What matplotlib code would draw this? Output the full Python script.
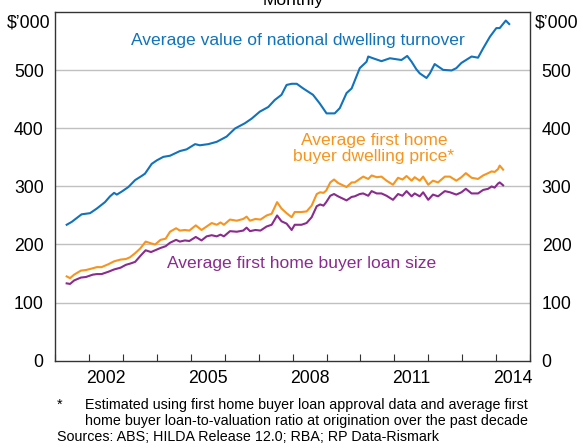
import numpy as np
import matplotlib.pyplot as plt

# Average dwelling values, $'000, monthly

turnover_dates = [2001.33, 2001.48, 2001.77, 2002.02, 2002.22, 2002.46, 2002.61, 2002.73, 2002.81, 2002.95,
                  2003.15, 2003.35, 2003.54, 2003.64, 2003.84, 2003.99, 2004.18, 2004.38, 2004.67, 2004.87,
                  2005.12, 2005.26, 2005.51, 2005.76, 2006.05, 2006.30, 2006.59, 2006.79, 2007.03, 2007.28,
                  2007.47, 2007.67, 2007.82, 2007.97, 2008.12, 2008.31, 2008.60, 2008.80, 2009.00, 2009.24,
                  2009.39, 2009.59, 2009.74, 2009.98, 2010.18, 2010.23, 2010.37, 2010.62, 2010.87, 2011.21,
                  2011.38, 2011.51, 2011.65, 2011.75, 2011.95, 2012.05, 2012.19, 2012.44, 2012.69, 2012.83,
                  2012.98, 2013.28, 2013.47, 2013.62, 2013.82, 2014.01, 2014.11, 2014.29, 2014.39]
turnover = [234, 239, 252, 254, 262, 273, 283, 289, 286, 291,
            299, 311, 318, 322, 339, 345, 351, 353, 361, 364,
            373, 371, 373, 377, 386, 400, 409, 417, 429, 437,
            449, 458, 475, 477, 477, 469, 458, 443, 426, 426,
            435, 461, 469, 504, 515, 524, 521, 516, 521, 518,
            525, 515, 502, 495, 487, 495, 511, 501, 500, 504,
            513, 524, 522, 538, 558, 573, 573, 586, 580]

fhb_dates = [2001.33, 2001.43, 2001.55, 2001.75, 2001.90, 2002.10, 2002.22, 2002.36, 2002.56, 2002.73,
             2002.92, 2003.08, 2003.20, 2003.35, 2003.50, 2003.66, 2003.82, 2003.94, 2004.10, 2004.25,
             2004.38, 2004.56, 2004.67, 2004.82, 2004.95, 2005.14, 2005.31, 2005.46, 2005.61, 2005.76,
             2005.87, 2005.97, 2006.15, 2006.35, 2006.54, 2006.64, 2006.74, 2006.90, 2007.05, 2007.23,
             2007.38, 2007.54, 2007.67, 2007.82, 2007.97, 2008.06, 2008.26, 2008.41, 2008.56, 2008.71,
             2008.81, 2008.91, 2008.99, 2009.11, 2009.22, 2009.34, 2009.59, 2009.74, 2009.83, 2009.98,
             2010.08, 2010.23, 2010.33, 2010.48, 2010.62, 2010.77, 2010.96, 2011.11, 2011.24, 2011.36,
             2011.51, 2011.60, 2011.75, 2011.85, 2012.00, 2012.14, 2012.29, 2012.49, 2012.64, 2012.83,
             2012.98, 2013.11, 2013.28, 2013.47, 2013.62, 2013.77, 2013.87, 2013.96, 2014.06, 2014.11,
             2014.21]
fhb_price = [145, 142, 148, 155, 156, 159, 161, 161, 166, 171,
             174, 175, 178, 185, 193, 205, 202, 200, 208, 210,
             222, 228, 224, 225, 224, 233, 225, 231, 237, 234,
             238, 234, 243, 241, 244, 248, 241, 244, 243, 250,
             253, 273, 262, 254, 247, 256, 256, 257, 267, 287,
             290, 289, 293, 307, 312, 306, 299, 307, 307, 313,
             317, 313, 319, 316, 317, 310, 303, 315, 312, 318,
             310, 316, 310, 317, 303, 310, 307, 317, 317, 310,
             316, 323, 315, 313, 319, 323, 326, 325, 330, 336,
             329]
fhb_loan = [133, 132, 138, 143, 144, 148, 149, 149, 153, 157,
            160, 165, 167, 170, 180, 190, 187, 190, 194, 197,
            203, 208, 205, 207, 206, 213, 207, 214, 216, 214,
            217, 214, 223, 222, 224, 229, 223, 225, 224, 231,
            234, 250, 240, 236, 225, 234, 234, 237, 247, 266,
            269, 267, 273, 284, 287, 283, 276, 282, 283, 287,
            288, 284, 292, 288, 288, 284, 277, 287, 284, 292,
            283, 288, 283, 290, 277, 286, 283, 292, 290, 286,
            290, 296, 288, 288, 294, 296, 300, 298, 305, 307,
            302]

year_labels = ['2002', '2005', '2008', '2011', '2014']
y_ticks = [0, 100, 200, 300, 400, 500]

blue = '#1173bb'
orange = '#f7941d'
purple = '#8a2b8e'

plt.rcParams['font.family'] = ['Liberation Sans', 'DejaVu Sans']

fig = plt.figure(figsize=(5.81, 4.44), dpi=100)
ax = fig.add_axes([0.0955, 0.188, 0.8165, 0.784])

for y in y_ticks[1:]:
    ax.axhline(y, color='#c0c0c0', lw=1.0, zorder=1)

ax.plot(turnover_dates, turnover, color=blue, lw=1.5, zorder=3)
ax.plot(fhb_dates, fhb_price, color=orange, lw=1.5, zorder=3)
ax.plot(fhb_dates, fhb_loan, color=purple, lw=1.5, zorder=3)

ax.set_xlim(2001, 2015)
ax.set_ylim(0, 600)

# year boundaries as tick marks, labels centred mid-year
ax.set_xticks(np.arange(2001, 2016))
ax.set_xticklabels([])
ax.set_xticks([int(s) + 0.5 for s in year_labels], minor=True)
ax.set_xticklabels(year_labels, minor=True)
ax.tick_params(axis='x', which='major', direction='in', length=5, width=0.8, color='#333333')
ax.tick_params(axis='x', which='minor', length=0, pad=7, labelsize=12.7)

ax.set_yticks(y_ticks)
ax.set_yticklabels([str(v) for v in y_ticks])
ax.tick_params(axis='y', left=False, right=False, labelleft=True, labelright=True,
               labelsize=12.7, pad=5)

for s in ax.spines.values():
    s.set_color('#333333')
    s.set_linewidth(1.0)

ax.text(-0.01, 0.993, '$\u2019000', transform=ax.transAxes, ha='right', va='top', fontsize=12.7)
ax.text(1.01, 0.993, '$\u2019000', transform=ax.transAxes, ha='left', va='top', fontsize=12.7)

ax.text(2008.15, 552, 'Average value of national dwelling turnover', color=blue,
        ha='center', va='center', fontsize=12.6)
ax.text(2010.4, 365, 'Average first home\nbuyer dwelling price*', color=orange,
        ha='center', va='center', fontsize=12.6, linespacing=1.1)
ax.text(2008.27, 167, 'Average first home buyer loan size', color=purple,
        ha='center', va='center', fontsize=12.6)

fig.text(293 / 581, 1 - 0 / 444, 'Monthly', ha='center', va='center', fontsize=12.6)

fig.text(57 / 581, 1 - 405 / 444, '*', ha='left', va='center', fontsize=10.3)
fig.text(85 / 581, 1 - 413 / 444,
         'Estimated using first home buyer loan approval data and average first\n'
         'home buyer loan-to-valuation ratio at origination over the past decade',
         ha='left', va='center', fontsize=10.3, linespacing=1.1)
fig.text(57 / 581, 1 - 437 / 444, 'Sources: ABS; HILDA Release 12.0; RBA; RP Data-Rismark',
         ha='left', va='center', fontsize=10.3)

fig.savefig('out.png', dpi=100)
